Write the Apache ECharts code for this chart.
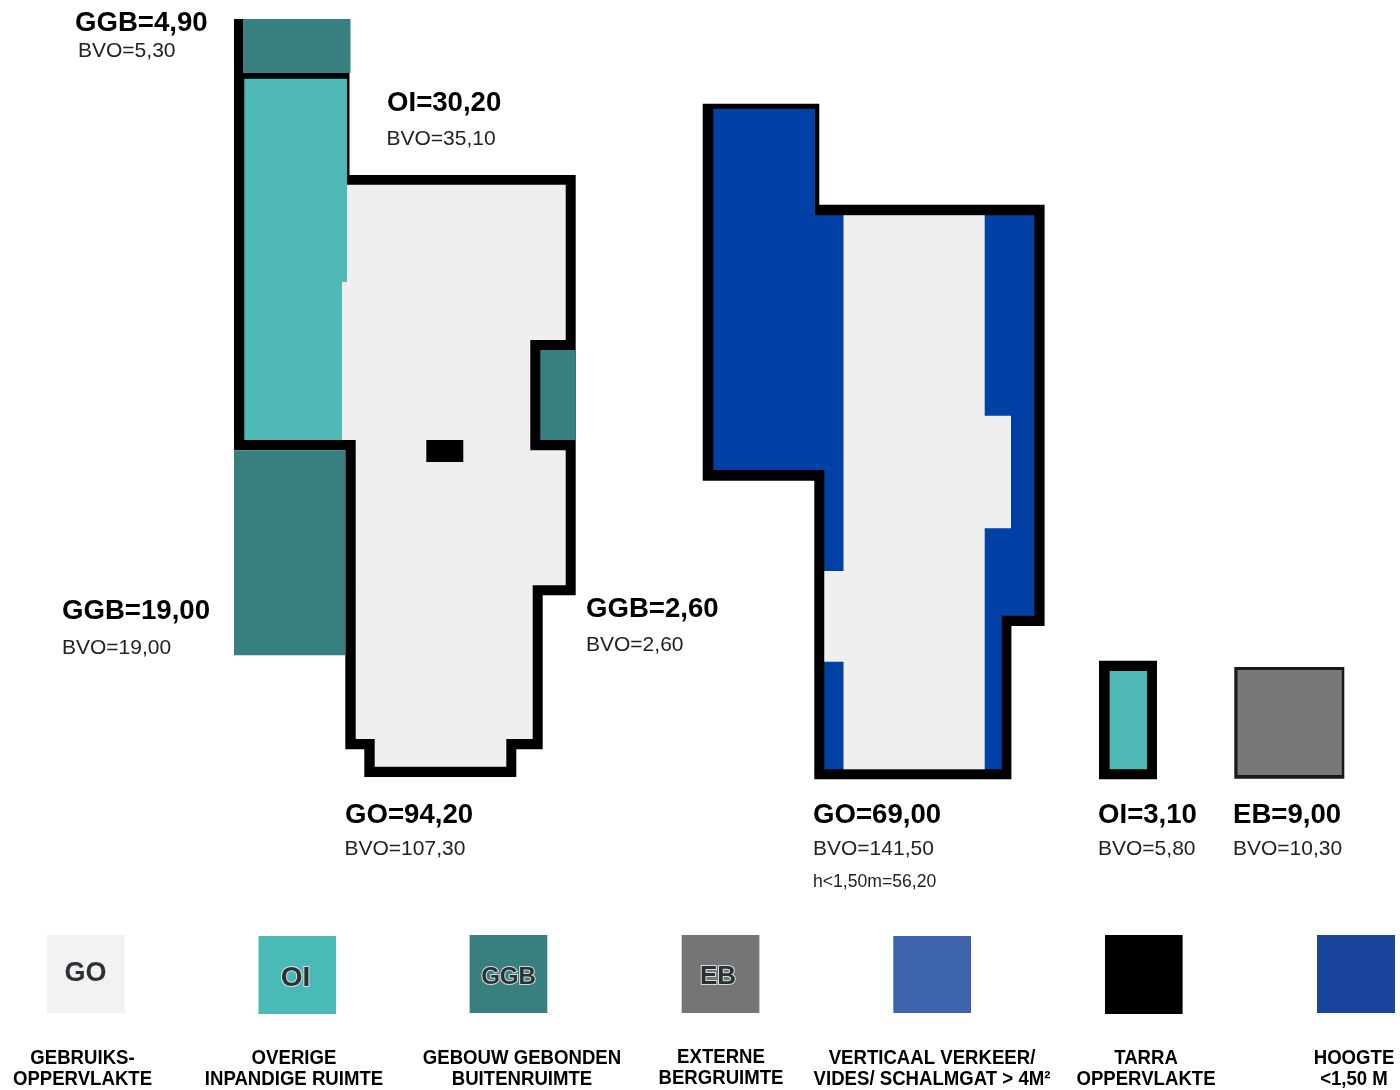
<!DOCTYPE html>
<html>
<head>
<meta charset="utf-8">
<style>html,body{margin:0;padding:0;background:#fff}#c{width:1400px;height:1090px}</style>
<script src="https://cdn.jsdelivr.net/npm/echarts@6/dist/echarts.min.js"></script>
</head>
<body>
<div id="c"></div>
<script>
// Floor-plan outlines as [x, y] on a 1400 x 1090 scale
const planAWall = [[234,19],[243,19],[243,73],[349.5,73],[349.5,175],[575.7,175],[575.7,595.3],[542.7,595.3],[542.7,749.3],[516.3,749.3],[516.3,777],[364.3,777],[364.3,749.3],[345.3,749.3],[345.3,450.3],[234,450.3]];
const planAGo = [[347,184.7],[565.7,184.7],[565.7,340],[530.3,340],[530.3,450.3],[565.7,450.3],[565.7,585.3],[532.7,585.3],[532.7,739],[506.3,739],[506.3,766.7],[374.7,766.7],[374.7,739],[355.7,739],[355.7,440],[342,440],[342,282],[347,282]];
const planAOi = [[244.3,78.7],[347,78.7],[347,282],[342,282],[342,440],[244.3,440]];
const planAGgbTop = [[243,19],[350.5,19],[350.5,73],[243,73]];
const planAGgbLeft = [[234,450.3],[345.3,450.3],[345.3,655.3],[234,655.3]];
const planAGgbRight = [[540.3,350],[575.7,350],[575.7,440],[540.3,440]];
const planATarra = [[426.3,440],[463.3,440],[463.3,462],[426.3,462]];
const planBWall = [[702.7,103.7],[819.3,103.7],[819.3,204.7],[1044.6,204.7],[1044.6,626],[1011.4,626],[1011.4,779.3],[814.3,779.3],[814.3,480.7],[702.7,480.7]];
const planBLow = [[713.3,108.7],[815,108.7],[815,215.3],[1034.3,215.3],[1034.3,615.7],[1001.8,615.7],[1001.8,769.3],[824.3,769.3],[824.3,470],[713.3,470]];
const planBGo = [[843.5,215.3],[984.7,215.3],[984.7,415.7],[1011,415.7],[1011,528.3],[984.7,528.3],[984.7,769.3],[843.5,769.3],[843.5,661.7],[824.3,661.7],[824.3,571],[843.5,571]];
const oiBoxWall = [[1099,660.7],[1157,660.7],[1157,779.3],[1099,779.3]];
const oiBoxFill = [[1109.6,671],[1147,671],[1147,769.3],[1109.6,769.3]];
const ebBoxWall = [[1234.3,667],[1344.3,667],[1344.3,778.7],[1234.3,778.7]];
const ebBoxFill = [[1237.5,670],[1341.8,670],[1341.8,775],[1237.5,775]];

// Legend swatches
const swatchLeft = [47,258.5,469.6,681.7,893.3,1105,1317];
const swatchRight = [124.6,336,547.3,759.4,971,1182.6,1395];
const swatchTop = [935,936,935,935,936,935,935];
const swatchBottom = [1013,1014,1013,1013,1013,1014,1013];
const swatchColors = ['#f2f2f2','#49bab6','#37807f','#757575','#3e63ad','#000000','#1a459c'];
const swatchCodes = ['GO','OI','GGB','EB','','',''];
const swatchCodeX = [85.5,295.5,508.5,718];
const swatchCodeY = [974,978,977,977];
const swatchCodeSize = [27,28,24,26];

// Legend captions
const captionLine1 = ['GEBRUIKS-','OVERIGE','GEBOUW GEBONDEN','EXTERNE','VERTICAAL VERKEER/','TARRA','HOOGTE'];
const captionLine2 = ['OPPERVLAKTE','INPANDIGE RUIMTE','BUITENRUIMTE','BERGRUIMTE','VIDES/ SCHALMGAT > 4M\u00B2','OPPERVLAKTE','<1,50 M'];
const captionX = [82.5,294,522,721,932,1146,1354];
const captionY1 = [1058,1058,1058,1057,1058,1058,1058];
const captionY2 = [1079,1079,1079,1078,1079,1079,1079];

// Area labels
const headText = ['GGB=4,90','OI=30,20','GGB=19,00','GGB=2,60','GO=94,20','GO=69,00','OI=3,10','EB=9,00'];
const headX = [75,387,62,586,345,813,1098,1233];
const headY = [23,103,611,609,815,815,815,815];
const subText = ['BVO=5,30','BVO=35,10','BVO=19,00','BVO=2,60','BVO=107,30','BVO=141,50','BVO=5,80','BVO=10,30'];
const subX = [78,386.5,62,586,344.5,813,1098,1233];
const subY = [51,139.5,648.5,645.5,849.5,849.5,849.5,849.5];
const noteText = ['h<1,50m=56,20'];
const noteX = [813];
const noteY = [882];

const GO='#efefef', OI='#4eb9b5', GGB='#37807f', LOW='#0140a4', EB='#787878', BLACK='#000000';
const FONT='"Liberation Sans", Arial, sans-serif';

const shapes = [
  {p:planAWall,c:BLACK},{p:planAGo,c:GO},{p:planAOi,c:OI},{p:planAGgbTop,c:GGB},
  {p:planAGgbLeft,c:GGB},{p:planAGgbRight,c:GGB},{p:planATarra,c:BLACK},
  {p:planBWall,c:BLACK},{p:planBLow,c:LOW},{p:planBGo,c:GO},
  {p:oiBoxWall,c:BLACK},{p:oiBoxFill,c:OI},{p:ebBoxWall,c:'#1a1a1a'},{p:ebBoxFill,c:EB}
];
swatchLeft.forEach((l,i)=>shapes.push({
  p:[[l,swatchTop[i]],[swatchRight[i],swatchTop[i]],[swatchRight[i],swatchBottom[i]],[l,swatchBottom[i]]],
  c:swatchColors[i]}));

const texts = [];
headText.forEach((t,i)=>texts.push({t,x:headX[i],y:headY[i],size:27.6,weight:'bold',fill:'#000',align:'left',sx:1}));
subText.forEach((t,i)=>texts.push({t,x:subX[i],y:subY[i],size:21,weight:'normal',fill:'#222',align:'left',sx:1}));
noteText.forEach((t,i)=>texts.push({t,x:noteX[i],y:noteY[i],size:17.6,weight:'normal',fill:'#222',align:'left',sx:1}));
captionLine1.forEach((t,i)=>texts.push({t,x:captionX[i],y:captionY1[i],size:20,weight:'bold',fill:'#000',align:'center',sx:0.93}));
captionLine2.forEach((t,i)=>texts.push({t,x:captionX[i],y:captionY2[i],size:20,weight:'bold',fill:'#000',align:'center',sx:0.93}));
swatchCodes.forEach((t,i)=>{ if(t) texts.push({t,x:swatchCodeX[i],y:swatchCodeY[i],size:swatchCodeSize[i],weight:'bold',
  fill:'#2b3236',align:'center',stroke:i>0?'#d5dcdc':null,sx:1}); });

const chart = echarts.init(document.getElementById('c'),null,{renderer:'canvas'});
chart.setOption({
  animation:false,
  backgroundColor:'#ffffff',
  grid:{left:0,right:0,top:0,bottom:0},
  xAxis:{type:'value',min:0,max:1400,show:false},
  yAxis:{type:'value',min:0,max:1090,inverse:true,show:false},
  series:[
    {type:'custom',coordinateSystem:'cartesian2d',clip:false,silent:true,z:1,
     data:shapes.map((s,i)=>[s.p[0][0],s.p[0][1],i]),
     renderItem:function(params,api){
       const s=shapes[params.dataIndex];
       return {type:'polygon',shape:{points:s.p.map(v=>api.coord(v))},style:{fill:s.c,stroke:null}};
     }},
    {type:'custom',coordinateSystem:'cartesian2d',clip:false,silent:true,z:2,
     data:texts.map((s,i)=>[s.x,s.y,i]),
     renderItem:function(params,api){
       const s=texts[params.dataIndex];
       const c=api.coord([s.x,s.y]);
       const style={text:s.t,x:0,y:0,fill:s.fill,align:s.align,verticalAlign:'middle',
         font:s.weight+' '+s.size+'px '+FONT};
       if(s.stroke){style.stroke=s.stroke;style.lineWidth=2;}
       return {type:'text',x:c[0],y:c[1],scaleX:s.sx,scaleY:1,style};
     }}
  ]
});
</script>
</body>
</html>
